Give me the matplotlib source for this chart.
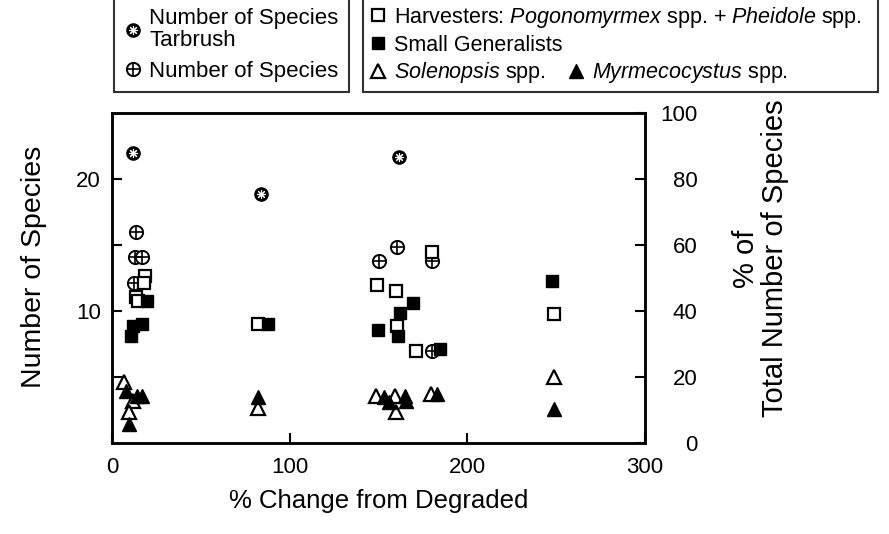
import matplotlib.pyplot as plt
from matplotlib.lines import Line2D

plt.rcParams['font.family'] = ['Liberation Sans', 'DejaVu Sans']
plt.rcParams['mathtext.fontset'] = 'custom'
plt.rcParams['mathtext.rm'] = 'Liberation Sans'
plt.rcParams['mathtext.it'] = 'Liberation Sans:italic'

# number of species (left axis)
tar_x = [12, 83.7, 161.7]
tar_y = [22, 18.9, 21.7]
nsp_x = [13.5, 13, 17, 12.5, 150.5, 160.5, 180, 180.5]
nsp_y = [16, 14.1, 14.1, 12.1, 13.8, 14.9, 13.8, 7.0]

# % of total number of species (right axis)
harv_x = [18.5, 18, 13.5, 14.5, 82, 149.5, 160, 160.5, 171, 180, 249]
harv_y = [50.6, 48.4, 44.2, 43.0, 36, 48, 46, 35.6, 28, 58, 39.2]
gen_x = [19.5, 17, 12, 10.5, 88, 169.5, 162, 150, 161, 184.5, 248]
gen_y = [43.0, 36.2, 35.6, 32.4, 36, 42.4, 39.6, 34.4, 32.4, 28.4, 49.2]
sol_x = [7, 12, 9.5, 82.5, 149, 159.5, 160, 179.5, 249]
sol_y = [18.4, 12.8, 9.4, 10.6, 14.2, 14.2, 9.4, 14.8, 20]
myr_x = [8, 14, 17, 9.5, 82.5, 153, 156, 165, 165.5, 183, 249]
myr_y = [15.8, 14.2, 14.2, 5.8, 14, 14, 12.4, 14.2, 12.8, 14.8, 10.4]

fig = plt.figure(figsize=(8.89, 5.34), dpi=100)
ax = fig.add_axes([0.126, 0.170, 0.599, 0.618])
ax2 = ax.twinx()

ms = 9
t1 = ax.plot(tar_x, tar_y, 'o', ms=ms + 0.5, mfc='black', mec='black', ls='none')[0]
t2 = ax.plot(tar_x, tar_y, marker=(8, 2, 0), ms=ms - 2.5, mec='white', mew=0.8, ls='none')[0]
n1 = ax.plot(nsp_x, nsp_y, 'o', ms=ms + 0.5, mfc='white', mec='black', mew=1.4, ls='none')[0]
n2 = ax.plot(nsp_x, nsp_y, '+', ms=ms + 0.5, mec='black', mew=1.2, ls='none')[0]

h = ax2.plot(harv_x, harv_y, 's', ms=ms - 0.5, mfc='white', mec='black', mew=1.6, ls='none')[0]
g = ax2.plot(gen_x, gen_y, 's', ms=ms - 0.5, mfc='black', mec='black', ls='none')[0]
s = ax2.plot(sol_x, sol_y, '^', ms=ms + 1, mfc='white', mec='black', mew=1.6, ls='none')[0]
m = ax2.plot(myr_x, myr_y, '^', ms=ms + 1, mfc='black', mec='black', ls='none')[0]

ax.set_xlim(0, 300)
ax.set_ylim(0, 25)
ax2.set_ylim(0, 100)
ax.set_xticks([0, 100, 200, 300])
ax.set_yticks([5, 10, 15, 20], ['', '10', '', '20'])
ax2.set_yticks([0, 20, 40, 60, 80, 100])

for a in (ax, ax2):
    for sp in a.spines.values():
        sp.set_linewidth(1.8)
    a.tick_params(direction='in', length=7, width=1.5, labelsize=16, pad=8)
ax.tick_params(axis='x', pad=10)
# right-hand labels are right-aligned in the original
ax2.tick_params(axis='y', pad=38)
for lab in ax2.get_yticklabels():
    lab.set_ha('right')

ax.set_xlabel('% Change from Degraded', fontsize=18.5, labelpad=8)
ax.set_ylabel('Number of Species', fontsize=20.5)
ax.yaxis.set_label_coords(-0.122, 0.535)
ax2.set_ylabel('% of\nTotal Number of Species', fontsize=21, linespacing=1.05)
ax2.yaxis.set_label_coords(1.165, 0.56)

lkw = dict(frameon=True, fancybox=False, edgecolor='black',
           handlelength=0.8, handletextpad=0.35, borderaxespad=0)

leg1 = fig.legend([(t1, t2), (n1, n2)],
                  ['Number of Species\nTarbrush', 'Number of Species'],
                  loc='upper left', bbox_to_anchor=(0.128, 1.003),
                  labelspacing=0.45, fontsize=16, borderpad=0.45, **lkw)
leg1.get_frame().set_linewidth(1.5)
for t in leg1.get_texts():
    t.set_linespacing(1.05)

leg2 = fig.legend([h, g, s],
                  ['Harvesters: $\\it{Pogonomyrmex}$ spp. + $\\it{Pheidole}$ spp.',
                   'Small Generalists', '$\\it{Solenopsis}$ spp.'],
                  loc='upper left', mode='expand', labelspacing=0.22,
                  fontsize=15.5, borderpad=0.3,
                  bbox_to_anchor=(0.408, 0.0, 0.58, 1.003), **lkw)
leg2.get_frame().set_linewidth(1.5)

leg3 = fig.legend([m], ['$\\it{Myrmecocystus}$ spp.'], loc='upper left',
                  bbox_to_anchor=(0.638, 0.885), frameon=False, fontsize=15.5,
                  handlelength=0.8, handletextpad=0.35, borderaxespad=0,
                  borderpad=0)

fig.savefig('out.png', dpi=100)
